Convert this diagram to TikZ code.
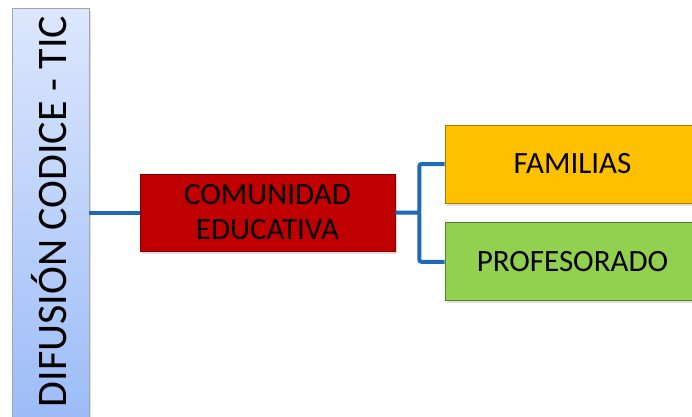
\documentclass[tikz,border=0pt]{standalone}
\usepackage{fontspec}
\setmainfont{Carlito}
\usetikzlibrary{positioning, shadows}

\definecolor{sideTop}{RGB}{221,231,253}
\definecolor{sideBot}{RGB}{155,187,247}
\definecolor{hubRed}{RGB}{192,0,0}
\definecolor{famOrange}{RGB}{255,192,0}
\definecolor{profGreen}{RGB}{146,208,80}
\definecolor{linkBlue}{RGB}{30,106,186}

\begin{document}
\begin{tikzpicture}[
	x=1pt, y=-1pt,
	box/.style={
		rectangle, draw=black!45, line width=0.8pt,
		drop shadow={shadow xshift=2pt, shadow yshift=-2.5pt, opacity=0.25},
		text=black, align=center, inner sep=0pt
	},
	side-box/.style={box, draw=gray!70, top color=sideTop, bottom color=sideBot,
		minimum width=77pt, minimum height=420pt},
	hub-box/.style={box, fill=hubRed, draw=hubRed!70!black,
		minimum width=255pt, minimum height=77pt, font=\fontsize{31}{35}\selectfont},
	leaf-box/.style={box, minimum width=255pt, minimum height=78pt,
		font=\fontsize{31}{35}\selectfont},
	link/.style={draw=linkBlue, line width=4pt, rounded corners=2pt}
	]
	
	\useasboundingbox (0,0) rectangle (692,416);
	
	% Side title
	\node[side-box] (difusion) at (50.5,218) {};
	\node[rotate=90, font=\fontsize{42}{50}\selectfont] (difusion-text) at (49.5,211.5) {DIFUSIÓN CODICE - TIC};
	
	% Hub
	\node[hub-box] (comunidad) at (267.5,212.5) {COMUNIDAD\\EDUCATIVA};
	
	% Branches
	\node[leaf-box, fill=famOrange, draw=famOrange!65!black] (familias) at (572.5,164) {FAMILIAS};
	\node[leaf-box, fill=profGreen, draw=profGreen!60!black, below=19pt of familias] (profesorado) {PROFESORADO};
	
	% Connectors
	\begin{scope}[on background layer/.try]
	\draw[link] (difusion.east |- comunidad.west) -- (comunidad.west);
	\coordinate (fork) at ([xshift=24pt]comunidad.east);
	\draw[link] (comunidad.east) -- (fork) |- (familias.west);
	\draw[link] (fork) |- (profesorado.west);
	\end{scope}
	
\end{tikzpicture}
\end{document}
